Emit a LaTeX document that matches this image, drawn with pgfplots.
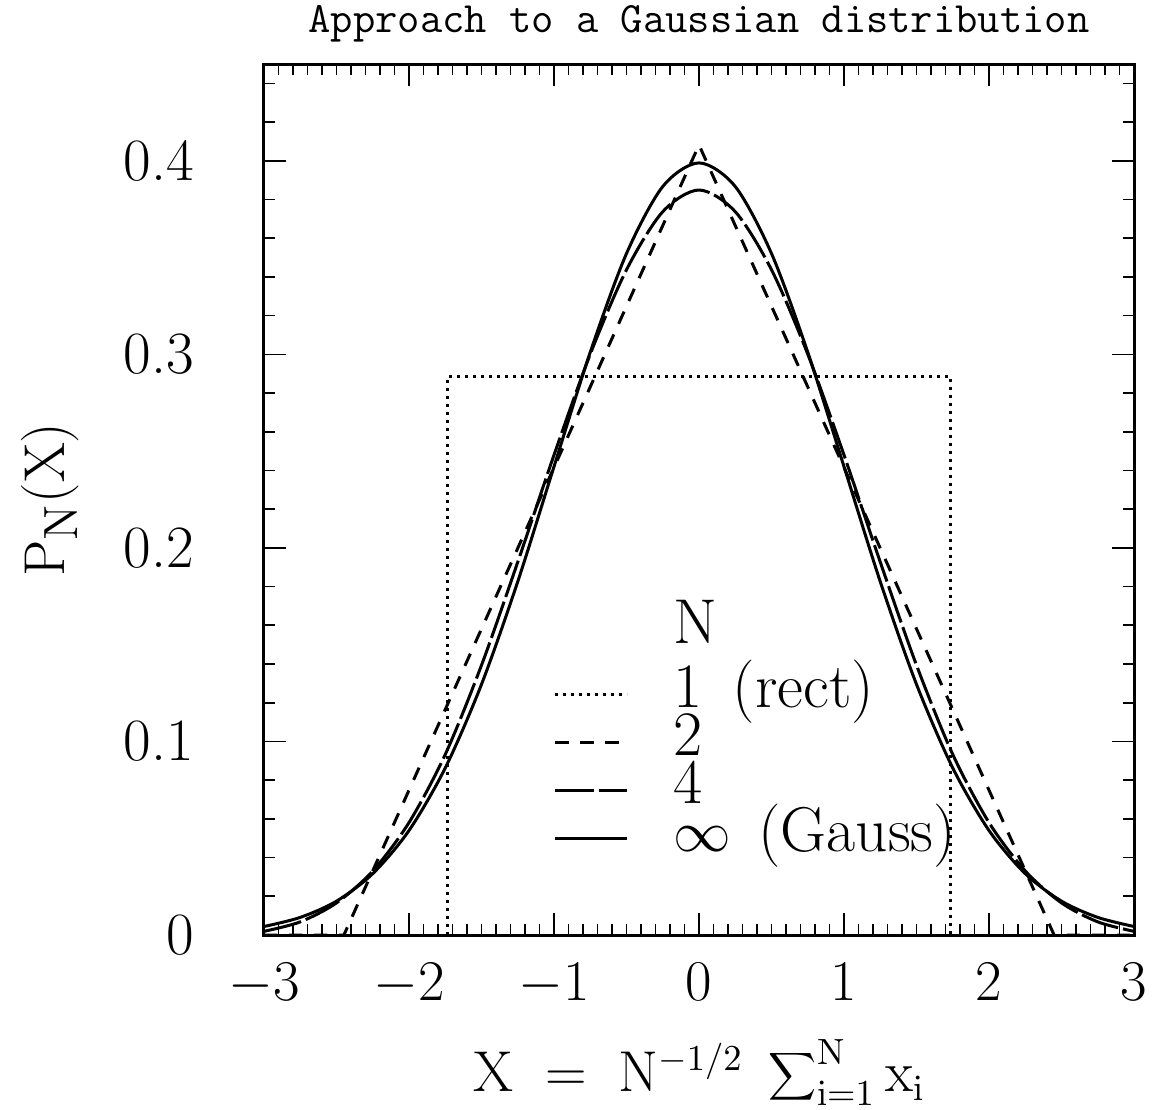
\documentclass[border=0pt]{standalone}
\usepackage{pgfplots}
\usepackage{pgfplotstable}
\pgfplotsset{compat=1.18}
\pgfplotstableread{
x y
-3.00 0.0044
-2.75 0.0091
-2.50 0.0175
-2.25 0.0317
-2.00 0.0540
-1.75 0.0863
-1.50 0.1295
-1.25 0.1826
-1.00 0.2420
-0.75 0.3011
-0.50 0.3521
-0.25 0.3867
0.00 0.3989
0.25 0.3867
0.50 0.3521
0.75 0.3011
1.00 0.2420
1.25 0.1826
1.50 0.1295
1.75 0.0863
2.00 0.0540
2.25 0.0317
2.50 0.0175
2.75 0.0091
3.00 0.0044
}\gauss
\pgfplotstableread{
x y
-3.00 0.0019
-2.75 0.0068
-2.50 0.0166
-2.25 0.0331
-2.00 0.0581
-1.75 0.0933
-1.50 0.1394
-1.25 0.1927
-1.00 0.2480
-0.75 0.3001
-0.50 0.3437
-0.25 0.3737
0.00 0.3849
0.25 0.3737
0.50 0.3437
0.75 0.3001
1.00 0.2480
1.25 0.1927
1.50 0.1394
1.75 0.0933
2.00 0.0581
2.25 0.0331
2.50 0.0166
2.75 0.0068
3.00 0.0019
}\nfour
\pgfplotstableread{
x y
-3.000 0
-2.449 0
0.000 0.4082
2.449 0
3.000 0
}\ntwo
\pgfplotstableread{
x y
-3.000 0
-1.732 0
-1.732 0.2887
1.732 0.2887
1.732 0
3.000 0
}\none
\begin{document}
\begin{tikzpicture}
\useasboundingbox (-79.2pt,-52.2pt) rectangle (267.9pt,280.5pt);
\begin{axis}[
  scale only axis, width=261pt, height=261.3pt,
  xmin=-3, xmax=3, ymin=0, ymax=0.45,
  xtick={-3,-2,-1,0,1,2,3},
  ytick={0,0.1,0.2,0.3,0.4},
  yticklabels={0,0.1,0.2,0.3,0.4},
  minor xtick={-2.9,-2.8,...,2.95},
  minor ytick={0.02,0.04,...,0.445},
  major tick length=6.6pt, minor tick length=3.3pt,
  axis line style={line width=0.9pt},
  every tick/.style={line width=0.5pt, black},
  tick label style={font=\fontsize{18}{20}\selectfont},
  yticklabel style={xshift=-17.5pt},
  xticklabel style={yshift=-5pt},
  title={Approach to a Gaussian distribution},
  title style={at={(axis description cs:0.5,1.023)}, anchor=center, font=\ttfamily\fontsize{13}{15}\selectfont},
  xlabel={$\mathrm{X} \;=\; \mathrm{N}^{-1/2}\;\displaystyle\sum\nolimits_{\mathrm{i}=1}^{\mathrm{N}} \mathrm{x}_{\mathrm{i}}$},
  xlabel style={at={(axis description cs:0.5,-0.158)}, anchor=center, font=\fontsize{16}{18}\selectfont},
  ylabel={$\mathrm{P}_{\mathrm{N}}(\mathrm{X})$},
  ylabel style={at={(axis description cs:-0.246,0.5)}, anchor=center, rotate=0, font=\fontsize{19}{21}\selectfont},
  legend style={draw=none, fill=none, at={(axis description cs:0.321,0.385)}, anchor=north west,
    font=\fontsize{19}{21}\selectfont,
    nodes={inner sep=0pt, text height=11pt, text depth=3.4pt},
    /tikz/every odd column/.append style={column sep=13.5pt}},
  legend cell align=left,
  legend image code/.code={\draw[#1] (0pt,0pt) -- (21.6pt,0pt);},
]
\addlegendimage{empty legend}
\addlegendentry[text depth=8pt]{N}
\addplot[black, line width=0.9pt, dash pattern=on 0.9pt off 1.5pt] table {\none};
\addlegendentry{1\hspace{9pt}(rect)}
\addplot[black, line width=0.9pt, dash pattern=on 4pt off 3.5pt] table {\ntwo};
\addlegendentry{2}
\addplot[black, line width=0.9pt, dash pattern=on 11.5pt off 1.5pt, smooth] table {\nfour};
\addlegendentry{4}
\addplot[black, line width=0.9pt, smooth] table {\gauss};
\addlegendentry{$\infty$\hspace{8pt}(Gauss)}
\end{axis}
\end{tikzpicture}
\end{document}
